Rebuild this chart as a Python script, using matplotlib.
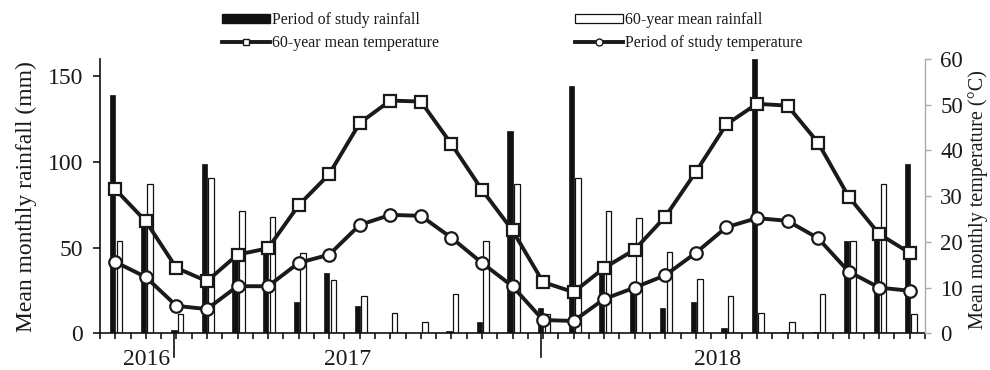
import matplotlib
matplotlib.use("Agg")
import matplotlib.pyplot as plt
import numpy as np
from matplotlib.patches import Patch
from matplotlib.lines import Line2D

# ---- data (Oct 2016 - Dec 2018) ----
months = ["Oct", "Nov", "Dec",
          "Jan", "Feb", "Mar", "Apr", "May", "Jun", "Jul", "Aug", "Sep", "Oct", "Nov", "Dec",
          "Jan", "Feb", "Mar", "Apr", "May", "Jun", "Jul", "Aug", "Sep", "Oct", "Nov", "Dec"]
study_rain = [139, 65, 2, 99, 45, 48, 18, 35, 16, 0, 0, 1.5, 6.5, 118, 15, 144,
              37, 27, 15, 18.5, 3.3, 160, 0.6, 0.6, 54, 58, 99]
mean_rain = [54, 87, 11, 90.5, 71.5, 67.7, 47, 31, 21.8, 11.7, 6.4, 22.9, 54, 87, 11, 90.5,
             71.5, 67.5, 47.3, 31.5, 21.8, 11.7, 6.4, 22.7, 54, 87, 11]
mean_temp = [31.5, 24.5, 14.3, 11.4, 17.2, 18.6, 28.0, 34.8, 46.0, 50.9, 50.7, 41.4, 31.4,
             22.5, 11.2, 9.0, 14.3, 18.3, 25.5, 35.3, 45.7, 50.2, 49.8, 41.7, 29.9, 21.7, 17.6]
study_temp = [15.6, 12.3, 6.0, 5.3, 10.3, 10.3, 15.4, 17.2, 23.7, 25.9, 25.7, 20.9, 15.4,
              10.3, 2.9, 2.7, 7.5, 10.0, 12.7, 17.6, 23.2, 25.2, 24.6, 20.8, 13.5, 10.0, 9.3]
year_labels = ["2016", "2017", "2018"]
year_label_pos = [1.04, 7.6, 19.7]
year_dividers = [1.93, 13.93]

plt.rcParams['font.family'] = ['Liberation Serif', 'DejaVu Serif']
TXT = '#1a1a1a'

fig = plt.figure(figsize=(9.9, 3.7), dpi=100)
ax = fig.add_axes([100/990, 1-333.3/370, 825/990, 274.3/370])
ax2 = ax.twinx()

x = np.arange(len(months))
ax.bar(x - 0.08, study_rain, width=0.17, color='#111111', edgecolor='#111111', linewidth=0.5, zorder=2)
ax.bar(x + 0.14, mean_rain, width=0.18, color='white', edgecolor='#111111', linewidth=0.9, zorder=2)

ax2.plot(x, mean_temp, color='#1a1a1a', lw=2.8, marker='s', ms=8.5, mfc='white',
         mec='#1a1a1a', mew=1.6, zorder=3)
ax2.plot(x, study_temp, color='#1a1a1a', lw=2.8, marker='o', ms=9, mfc='white',
         mec='#1a1a1a', mew=1.6, zorder=3)

ax.set_xlim(-0.5, len(months) - 0.5)
ax.set_ylim(0, 160)
ax2.set_ylim(0, 60)
ax.set_yticks([0, 50, 100, 150])
ax2.set_yticks(range(0, 61, 10))
ax.set_xticks(np.arange(-0.5, len(months), 0.5))
ax.set_xticklabels([])

ax.spines['top'].set_visible(False)
ax2.spines['top'].set_visible(False)
ax2.spines['left'].set_visible(False)
ax2.spines['bottom'].set_visible(False)
ax.spines['right'].set_visible(False)
ax.spines['left'].set_color('#111111')
ax.spines['left'].set_linewidth(1.2)
ax.spines['bottom'].set_color('#111111')
ax.spines['bottom'].set_linewidth(1.2)
ax2.spines['right'].set_color('#aaaaaa')
ax2.spines['right'].set_linewidth(1.0)

ax.tick_params(axis='y', direction='out', length=5, width=1.1, pad=7, labelsize=17, labelcolor=TXT)
ax.tick_params(axis='x', direction='out', length=4, width=1.1)
ax2.tick_params(axis='y', direction='out', length=4, width=1.0, color='#aaaaaa', pad=7,
                labelsize=16.5, labelcolor=TXT)

ax.set_ylabel("Mean monthly rainfall (mm)", fontsize=17, color=TXT, labelpad=8)
fig.text(978/990, 0.5 * (1 - 333.3/370) + 0.5 * (1 - 59/370) - 0.01,
         "Mean monthly temperature (°C)", rotation=90, ha='center', va='center',
         fontsize=14.5, color=TXT)

trans = ax.get_xaxis_transform()
for xd in year_dividers:
    ax.plot([xd, xd], [0, -0.088], transform=trans, color='#111111', lw=1.2, clip_on=False)
for lbl, xp in zip(year_labels, year_label_pos):
    ax.text(xp, -0.095, lbl, transform=trans, ha='center', va='center', fontsize=17, color=TXT)

# legends
h_sr = Patch(facecolor='#111111', edgecolor='#111111')
h_mr = Patch(facecolor='white', edgecolor='#111111', linewidth=0.9)
h_mt = Line2D([], [], color='#1a1a1a', lw=2.8, marker='s', ms=5, mfc='white', mec='#1a1a1a', mew=1.0)
h_st = Line2D([], [], color='#1a1a1a', lw=2.8, marker='o', ms=5, mfc='white', mec='#1a1a1a', mew=1.0)
common = dict(frameon=False, fontsize=11.5, handlelength=3.0, handleheight=0.5,
              handletextpad=0.15, labelspacing=0.45, borderpad=0, borderaxespad=0, loc='upper left')
leg1 = fig.legend([h_sr, h_mt], ["Period of study rainfall", "60-year mean temperature"],
                  bbox_to_anchor=(222/990, 1-12/370), **common)
leg2 = fig.legend([h_mr, h_st], ["60-year mean rainfall", "Period of study temperature"],
                  bbox_to_anchor=(575/990, 1-12/370), **common)
for lg in (leg1, leg2):
    for t in lg.get_texts():
        t.set_color(TXT)

fig.savefig("out.png", dpi=100, facecolor='white')
